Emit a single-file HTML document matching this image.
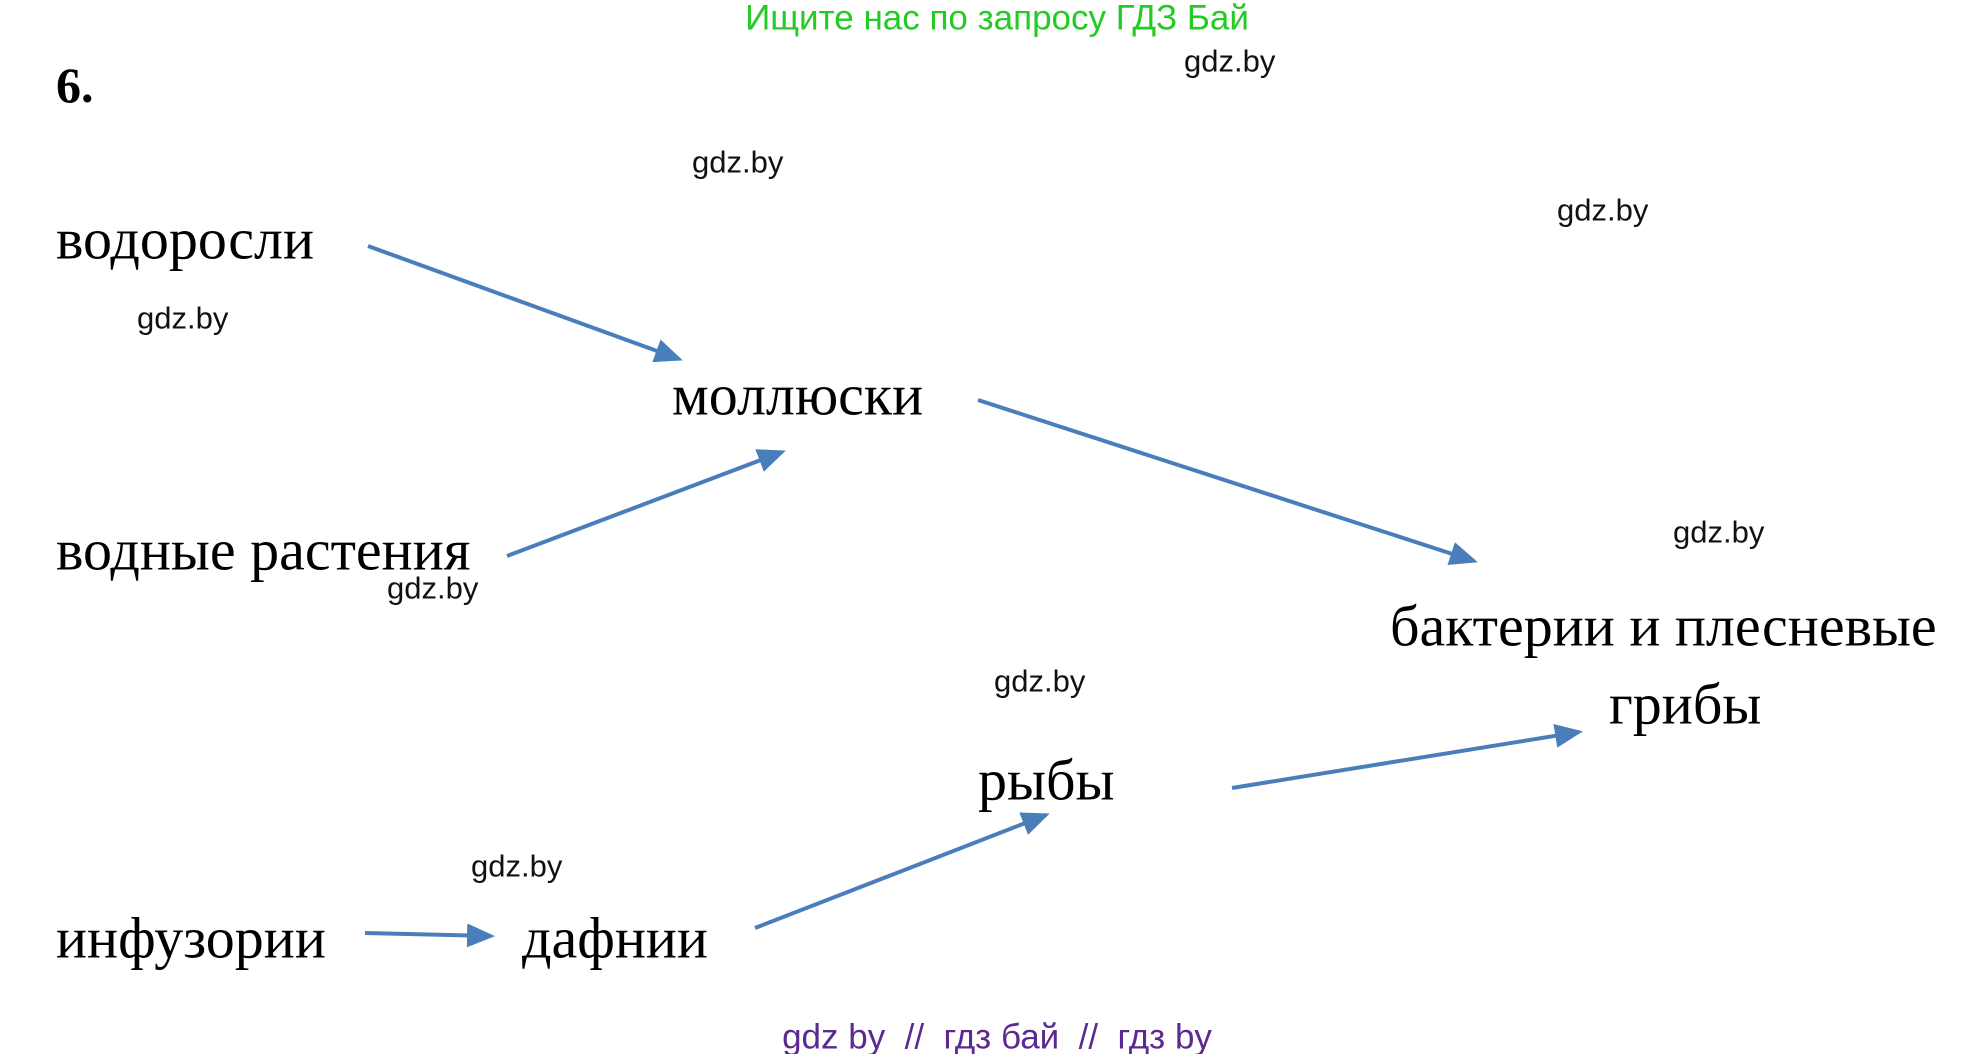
<!DOCTYPE html>
<html><head><meta charset="utf-8"><style>
html,body{margin:0;padding:0;background:#fff;width:1986px;height:1054px;overflow:hidden}
svg{display:block}
.s{font-family:"Liberation Serif",serif;font-size:58px;fill:#000}
.g{font-family:"Liberation Sans",sans-serif;font-size:31px;fill:#111}
</style></head><body>
<svg width="1986" height="1054" viewBox="0 0 1986 1054" xmlns="http://www.w3.org/2000/svg">
<defs>
<marker id="a" markerWidth="7" markerHeight="6" refX="6" refY="3" orient="auto" markerUnits="strokeWidth">
<path d="M0,0 L7,3 L0,6 z" fill="#4a7ebb"/></marker>
</defs>
<text x="997" y="18" text-anchor="middle" dominant-baseline="central" font-family="Liberation Sans,sans-serif" font-size="35" fill="#22cc22">Ищите нас по запросу ГДЗ Бай</text>
<text x="56" y="85" dominant-baseline="central" font-family="Liberation Serif,serif" font-size="50" font-weight="bold">6.</text>
<g dominant-baseline="central">
<text class="s" x="56" y="239">водоросли</text>
<text class="s" x="672" y="395">моллюски</text>
<text class="s" x="56" y="550">водные растения</text>
<text class="s" x="1390" y="626">бактерии и плесневые</text>
<text class="s" x="1609" y="704">грибы</text>
<text class="s" x="978" y="780">рыбы</text>
<text class="s" x="56" y="938">инфузории</text>
<text class="s" x="522" y="938">дафнии</text>
<text class="g" x="1184" y="61">gdz.by</text>
<text class="g" x="692" y="162">gdz.by</text>
<text class="g" x="1557" y="210">gdz.by</text>
<text class="g" x="137" y="318">gdz.by</text>
<text class="g" x="1673" y="532">gdz.by</text>
<text class="g" x="387" y="588">gdz.by</text>
<text class="g" x="994" y="681">gdz.by</text>
<text class="g" x="471" y="866">gdz.by</text>
<text x="997" y="1037" text-anchor="middle" xml:space="preserve" style="white-space:pre" font-family="Liberation Sans,sans-serif" font-size="35" fill="#5b2a91">gdz by  //  гдз бай  //  гдз by</text>
</g>
<g stroke="#4a7ebb" stroke-width="4" fill="none" marker-end="url(#a)">
<line x1="368" y1="246" x2="679" y2="359"/>
<line x1="507" y1="556" x2="782" y2="452"/>
<line x1="978" y1="400" x2="1474" y2="561"/>
<line x1="1232" y1="788" x2="1579" y2="732"/>
<line x1="365" y1="933" x2="491" y2="936"/>
<line x1="755" y1="928" x2="1046" y2="815"/>
</g>
</svg>
</body></html>
